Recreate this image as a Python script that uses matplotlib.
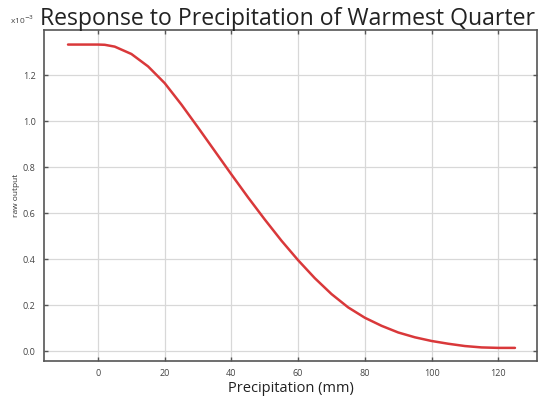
import matplotlib
matplotlib.use("Agg")
import matplotlib.pyplot as plt

precip = [-9, 0, 2, 5, 10, 15, 20, 25, 30, 35, 40, 45, 50, 55, 60, 65, 70, 75, 80,
          85, 90, 95, 100, 105, 110, 115, 120, 125]
response = [1.333, 1.333, 1.332, 1.324, 1.292, 1.238, 1.165, 1.072, 0.972, 0.87, 0.768, 0.668,
            0.572, 0.48, 0.395, 0.317, 0.248, 0.19, 0.145, 0.11, 0.081, 0.06, 0.044, 0.032,
            0.022, 0.016, 0.014, 0.014]
xticks = [0, 20, 40, 60, 80, 100, 120]
yticks = [0.0, 0.2, 0.4, 0.6, 0.8, 1.0, 1.2]

plt.rcParams['font.family'] = ['Open Sans', 'DejaVu Sans']

fig = plt.figure(figsize=(5.4, 4.12), dpi=100)
ax = fig.add_axes([0.0815, 0.1238, 0.9129, 0.8032])

ax.plot(precip, response, color='#d9383a', lw=1.8, solid_capstyle='round')

ax.set_xlim(-16.2, 131.6)
ax.set_ylim(-0.043, 1.396)
ax.set_xticks(xticks)
ax.set_yticks(yticks)
ax.set_xticklabels([str(v) for v in xticks])
ax.set_yticklabels([f"{v:.1f}" for v in yticks])
ax.grid(True, color='#d8d8d8', lw=0.9)
ax.tick_params(direction='in', length=3, width=1, colors='#555555', labelsize=6.5,
               labelcolor='#444444', top=True, right=True, pad=6)
for s in ax.spines.values():
    s.set_color('#555555')
    s.set_linewidth(1.2)

ax.set_xlabel('Precipitation (mm)', fontsize=10.5, color='#222222', labelpad=2)
ax.set_ylabel('raw output', fontsize=6, color='#333333', labelpad=2)
fig.text(0.533, 0.939, 'Response to Precipitation of Warmest Quarter', ha='center', va='baseline',
         fontsize=16.6, color='#222222')
fig.text(0.018, 0.953, r'x10$^{-3}$', fontsize=6, color='#444444', va='center')

fig.savefig('out.png', dpi=100)
